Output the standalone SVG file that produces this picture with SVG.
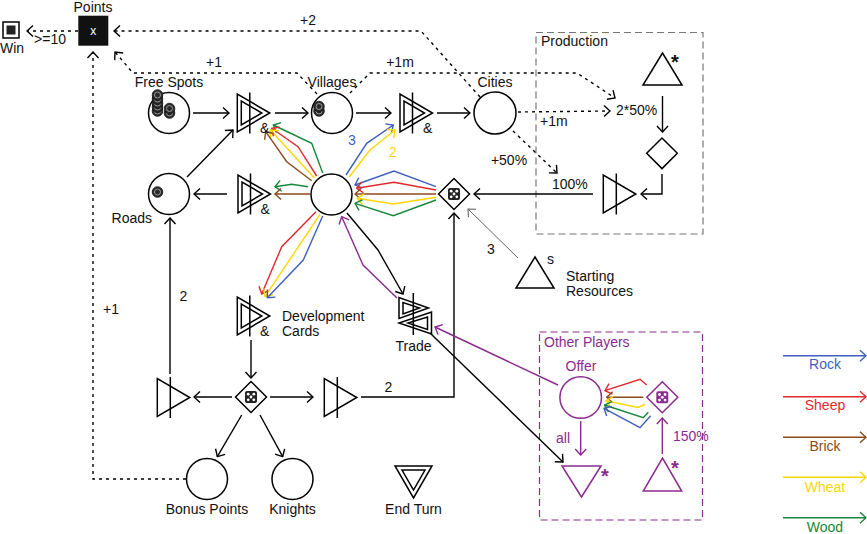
<svg xmlns="http://www.w3.org/2000/svg" xmlns:xlink="http://www.w3.org/1999/xlink" width="867" height="534" viewBox="0 0 867 534">
<style>
text{font-family:"Liberation Sans",Arial,sans-serif;font-size:14px;fill:#111}
.m{text-anchor:middle}
.e{text-anchor:end}
.n{fill:#fff;stroke:#000;stroke-width:1.5}
.o{fill:none;stroke:#000;stroke-width:1.5}
.c{fill:none;stroke:#000;stroke-width:1.4}
.d{stroke-dasharray:3 4}
.g{stroke:#666}
.b{stroke:#3f5fbf}.r{stroke:#e0282e}.br{stroke:#8b4a1c}.y{stroke:#ffd700}.gr{stroke:#17873a}.p{stroke:#8a2b8e}
.pt{fill:#8a2b8e}
.star{font-size:20px;font-weight:bold}
</style>
<defs>
<marker id="a" viewBox="-8 -7 9 14" refX="0" refY="0" markerWidth="9" markerHeight="14" markerUnits="userSpaceOnUse" orient="auto"><path d="M-6,-5.5L0,0L-6,5.5" fill="none" stroke="#000" stroke-width="1.4"/></marker>
<marker id="ag" viewBox="-8 -7 9 14" refX="0" refY="0" markerWidth="9" markerHeight="14" markerUnits="userSpaceOnUse" orient="auto"><path d="M-6,-5.5L0,0L-6,5.5" fill="none" stroke="#666" stroke-width="1.1"/></marker>
<marker id="ab" viewBox="-8 -7 9 14" refX="0" refY="0" markerWidth="9" markerHeight="14" markerUnits="userSpaceOnUse" orient="auto"><path d="M-6,-5.5L0,0L-6,5.5" fill="none" stroke="#3f5fbf" stroke-width="1.4"/></marker>
<marker id="ar" viewBox="-8 -7 9 14" refX="0" refY="0" markerWidth="9" markerHeight="14" markerUnits="userSpaceOnUse" orient="auto"><path d="M-6,-5.5L0,0L-6,5.5" fill="none" stroke="#e0282e" stroke-width="1.4"/></marker>
<marker id="abr" viewBox="-8 -7 9 14" refX="0" refY="0" markerWidth="9" markerHeight="14" markerUnits="userSpaceOnUse" orient="auto"><path d="M-6,-5.5L0,0L-6,5.5" fill="none" stroke="#8b4a1c" stroke-width="1.4"/></marker>
<marker id="ay" viewBox="-8 -7 9 14" refX="0" refY="0" markerWidth="9" markerHeight="14" markerUnits="userSpaceOnUse" orient="auto"><path d="M-6,-5.5L0,0L-6,5.5" fill="none" stroke="#ffd700" stroke-width="1.4"/></marker>
<marker id="agr" viewBox="-8 -7 9 14" refX="0" refY="0" markerWidth="9" markerHeight="14" markerUnits="userSpaceOnUse" orient="auto"><path d="M-6,-5.5L0,0L-6,5.5" fill="none" stroke="#17873a" stroke-width="1.4"/></marker>
<marker id="ap" viewBox="-8 -7 9 14" refX="0" refY="0" markerWidth="9" markerHeight="14" markerUnits="userSpaceOnUse" orient="auto"><path d="M-6,-5.5L0,0L-6,5.5" fill="none" stroke="#8a2b8e" stroke-width="1.4"/></marker>
<g id="conv"><path class="n" d="M0,-19V19L32.5,0Z"/><line class="o" x1="13" y1="-20.5" x2="13" y2="20.5"/></g>
<g id="conv2"><path class="n" d="M0,-19V19L32.5,0Z"/><path class="o" d="M4,-12V12L24.5,0Z"/><line class="o" x1="12.5" y1="-20.5" x2="12.5" y2="20.5"/></g>
<g id="tok"><circle r="5.3" fill="#2a2a2a" stroke="#111" stroke-width="0.8"/><circle r="3" fill="none" stroke="#9a9a9a" stroke-width="1"/><circle r="1.6" fill="#2a2a2a"/></g>
<g id="dice"><rect x="-6" y="-6" width="12" height="12" rx="2" fill="#222"/><g fill="#fff"><circle cx="-2.8" cy="-2.8" r="1.4"/><circle cx="2.8" cy="-2.8" r="1.4"/><circle cx="0" cy="0" r="1.4"/><circle cx="-2.8" cy="2.8" r="1.4"/><circle cx="2.8" cy="2.8" r="1.4"/></g></g>
<g id="pdice"><rect x="-6" y="-6" width="12" height="12" rx="2" fill="#8a2b8e"/><g fill="#fff"><circle cx="-2.8" cy="-2.8" r="1.4"/><circle cx="2.8" cy="-2.8" r="1.4"/><circle cx="0" cy="0" r="1.4"/><circle cx="-2.8" cy="2.8" r="1.4"/><circle cx="2.8" cy="2.8" r="1.4"/></g></g>
</defs>

<!-- groups / boxes -->
<g id="production-box">
<rect x="536" y="32.5" width="167" height="201.5" fill="none" stroke="#777" stroke-width="1.2" stroke-dasharray="7 4"/>
<text x="541" y="46">Production</text>
</g>
<g id="other-players-box">
<rect x="539.5" y="332" width="163" height="188" fill="none" stroke="#8a2b8e" stroke-width="1.2" stroke-dasharray="7 4"/>
<text x="544" y="347" class="pt">Other Players</text>
</g>

<g id="connectors">
<!-- state (dashed) connections -->
<path class="c d" d="M78,31H27" marker-end="url(#a)"/>
<text x="50" y="44" class="m">&gt;=10</text>
<path class="c d" d="M480,97L421,31H114" marker-end="url(#a)"/>
<text x="308" y="25" class="m">+2</text>
<path class="c d" d="M317,94L297,73H133L115,52" marker-end="url(#a)"/>
<text x="214" y="67" class="m">+1</text>
<path class="c d" d="M350,93L370,73H577L615,98" marker-end="url(#a)"/>
<text x="400" y="67" class="m">+1m</text>
<path class="c d" d="M518,112L610,111" marker-end="url(#a)"/>
<text x="540" y="126">+1m</text>
<path class="c d" d="M513,131L557,173" marker-end="url(#a)"/>
<text x="509" y="165" class="m">+50%</text>
<path class="c d" d="M186,479H93V52" marker-end="url(#a)"/>
<text x="111" y="314" class="m">+1</text>

<!-- black resource connections -->
<path class="c" d="M193,113H229" marker-end="url(#a)"/>
<path class="c" d="M275,113H308" marker-end="url(#a)"/>
<path class="c" d="M356,113H391" marker-end="url(#a)"/>
<path class="c" d="M437,113H470" marker-end="url(#a)"/>
<path class="c" d="M187,177L233,130" marker-end="url(#a)"/>
<path class="c" d="M227,194H194" marker-end="url(#a)"/>
<path class="c" d="M170,374V218" marker-end="url(#a)"/>
<text x="183.5" y="300.5" class="m">2</text>
<path class="c" d="M251,340V378" marker-end="url(#a)"/>
<path class="c" d="M232,397H194" marker-end="url(#a)"/>
<path class="c" d="M270,397H313" marker-end="url(#a)"/>
<path class="c" d="M241.7,415L217.3,456.7" marker-end="url(#a)"/>
<path class="c" d="M260,415L282.7,456.7" marker-end="url(#a)"/>
<path class="c" d="M361,397H454V213" marker-end="url(#a)"/>
<text x="388.5" y="392" class="m">2</text>
<path class="c" d="M593,194H474" marker-end="url(#a)"/>
<path class="c" d="M662.5,96V132" marker-end="url(#a)"/>
<path class="c" d="M662,174V194H641" marker-end="url(#a)"/>
<path class="c" d="M347,213L378,250L403,294" marker-end="url(#a)"/>
<path class="c" d="M430,333L563,462" marker-end="url(#a)"/>
<path class="c g" style="stroke-width:1" d="M518,258L468,209" marker-end="url(#ag)"/>
<text x="491" y="254" class="m">3</text>

<!-- hub to converter 1 -->
<path class="c gr" d="M322.7,173L311.7,143.3L273.3,125" marker-end="url(#agr)"/>
<path class="c r" d="M316.7,176L298,146.7L271.7,128.3" marker-end="url(#ar)"/>
<path class="c y" d="M314.3,178L270.5,130" marker-end="url(#ay)"/>
<path class="c br" d="M311.7,180.7L286.7,161.7L265.7,131.7" marker-end="url(#abr)"/>
<!-- hub to converter 2 -->
<path class="c b" d="M346,175L366.7,143.3L393.3,125" marker-end="url(#ab)"/>
<path class="c y" d="M349.3,176.7L370,150L395,130" marker-end="url(#ay)"/>
<text x="352" y="145" class="m" style="fill:#3f5fbf">3</text>
<text x="393" y="157" class="m" style="fill:#ffd700">2</text>
<!-- hub to converter 3 -->
<path class="c gr" d="M308,186.7L291.7,184.3L275,186.7" marker-end="url(#agr)"/>
<path class="c br" d="M310,194H275" marker-end="url(#abr)"/>
<!-- hub to dev cards -->
<path class="c r" d="M316,211.7L281.7,246.7L261.7,294" marker-end="url(#ar)"/>
<path class="c y" d="M320,214.3L265,296.7" marker-end="url(#ay)"/>
<path class="c b" d="M322.7,216L303.3,260L267.3,297.7" marker-end="url(#ab)"/>
<!-- dice to hub -->
<path class="c b" d="M436,186.7L394,171L355,185" marker-end="url(#ab)"/>
<path class="c r" d="M436,190L394,182.3L356.7,188.3" marker-end="url(#ar)"/>
<path class="c br" d="M436,194H355" marker-end="url(#abr)"/>
<path class="c y" d="M436,197.3L393.3,204L357.3,198.3" marker-end="url(#ay)"/>
<path class="c gr" d="M436,200L393.3,215.7L355,203.3" marker-end="url(#agr)"/>
<!-- purple -->
<path class="c p" d="M397,298L363,265L341.7,216.7" marker-end="url(#ap)"/>
<path class="c p" d="M558,385L435,327" marker-end="url(#ap)"/>
<path class="c p" d="M580.7,421V455" marker-end="url(#ap)"/>
<text x="563" y="443" class="m pt">all</text>
<path class="c p" d="M662.3,454V418" marker-end="url(#ap)"/>
<text x="673" y="441" class="pt">150%</text>
<!-- purple dice to offer -->
<path class="c r" d="M646.7,385L640,379.3L605,390.7" marker-end="url(#ar)"/>
<path class="c br" d="M643.3,397.3H606.7" marker-end="url(#abr)"/>
<path class="c y" d="M645,404.5L638,407.5L606,400.7" marker-end="url(#ay)"/>
<path class="c gr" d="M648.3,412.3L643.3,417.7L604.5,405" marker-end="url(#agr)"/>
<path class="c b" d="M650.7,415.7L640,427.7L604,408.3" marker-end="url(#ab)"/>
</g>

<!-- nodes -->
<g id="win">
<rect x="3" y="22" width="16" height="16" class="n"/>
<rect x="6.5" y="25.5" width="9" height="9" fill="#222"/>
<text x="12" y="53" class="m">Win</text>
</g>
<g id="points">
<rect x="78.3" y="15.7" width="30" height="30" fill="#111"/>
<text x="93.3" y="35" class="m" style="fill:#fff;font-size:12px">x</text>
<text x="93" y="11.5" class="m">Points</text>
</g>
<g id="free-spots">
<circle cx="169" cy="113" r="20.5" class="n"/>
<use xlink:href="#tok" x="157.5" y="111"/><use xlink:href="#tok" x="157.5" y="107"/><use xlink:href="#tok" x="157.5" y="103"/><use xlink:href="#tok" x="157.5" y="99"/><use xlink:href="#tok" x="157.5" y="95"/>
<use xlink:href="#tok" x="169.5" y="113"/><use xlink:href="#tok" x="169.5" y="108.5"/>
<text x="169" y="87" class="m">Free Spots</text>
</g>
<g id="villages">
<circle cx="332" cy="113" r="20.5" class="n"/>
<use xlink:href="#tok" x="319" y="111"/><use xlink:href="#tok" x="319" y="106.5"/>
<text x="332" y="87" class="m">Villages</text>
</g>
<g id="cities">
<circle cx="495" cy="113" r="21" class="n"/>
<text x="495" y="87" class="m">Cities</text>
</g>
<g id="roads">
<circle cx="169" cy="194" r="20.5" class="n"/>
<use xlink:href="#tok" x="157.5" y="192"/>
<text x="152" y="223" class="e">Roads</text>
</g>
<g id="hub"><circle cx="331.5" cy="194.5" r="20.5" class="n"/></g>
<g id="build-village"><use xlink:href="#conv2" x="237.3" y="113"/><text x="260" y="133">&amp;</text></g>
<g id="build-city"><use xlink:href="#conv2" x="400" y="113"/><text x="423" y="133">&amp;</text></g>
<g id="build-road"><use xlink:href="#conv2" x="238" y="194"/><text x="260.5" y="214">&amp;</text></g>
<g id="development-cards"><use xlink:href="#conv2" x="237.3" y="316"/><text x="260" y="336">&amp;</text>
<text x="282" y="321">Development</text><text x="282" y="336">Cards</text></g>
<g id="dice-gate">
<path class="n" d="M454,178.5L469.5,194L454,209.5L438.5,194Z"/>
<use xlink:href="#dice" x="454" y="194"/>
</g>
<g id="starting-resources">
<path class="n" d="M516,288H554L535,257Z"/>
<text x="547" y="264">s</text>
<text x="566" y="280.5">Starting</text>
<text x="566" y="296">Resources</text>
</g>
<g id="production-source">
<path class="n" d="M643,85H682L662.5,53Z"/>
<text x="671" y="69" class="star">*</text>
</g>
<g id="production-gate"><path class="n" d="M662,138L677.3,153.3L662,168.6L646.7,153.3Z"/></g>
<g id="production-converter"><use xlink:href="#conv" x="603.3" y="194"/></g>
<text x="616" y="115">2*50%</text>
<text x="552" y="189">100%</text>
<g id="trade">
<path class="o" d="M399,297.5V318.5L428.5,308Z"/>
<path class="o" d="M403,302.5V314L419.5,308Z"/>
<path class="o" d="M431.5,312V334L399,323Z"/>
<path class="o" d="M427.5,317V329.5L408,323Z"/>
<line class="o" x1="413.3" y1="293" x2="413.3" y2="335"/>
<text x="413.5" y="351" class="m">Trade</text>
</g>
<g id="dev-dice">
<path class="n" d="M251,381.5L266.5,397L251,412.5L235.5,397Z"/>
<use xlink:href="#dice" x="251" y="397"/>
</g>
<g id="road-converter"><use xlink:href="#conv" x="157.3" y="397.5"/></g>
<g id="trade-converter"><use xlink:href="#conv" x="324.3" y="397.5"/></g>
<g id="bonus-points"><circle cx="207" cy="479" r="20.5" class="n"/><text x="207" y="513.5" class="m">Bonus Points</text></g>
<g id="knights"><circle cx="292.5" cy="479" r="20.5" class="n"/><text x="292.5" y="513.5" class="m">Knights</text></g>
<g id="end-turn">
<path class="n" d="M395,466H432L413.5,498Z"/>
<path class="o" d="M402,470H425L413.5,490Z"/>
<text x="413.5" y="513.5" class="m">End Turn</text>
</g>
<g id="offer">
<circle cx="580.7" cy="397.5" r="20.8" class="n" style="stroke:#8a2b8e"/>
<text x="581" y="371" class="m pt">Offer</text>
</g>
<g id="other-drain">
<path class="n" d="M562,466H601L581.5,497Z" style="stroke:#8a2b8e"/>
<text x="601" y="483" class="star pt">*</text>
</g>
<g id="other-dice">
<path class="n" d="M662.3,381.8L677.8,397.3L662.3,412.8L646.8,397.3Z" style="stroke:#8a2b8e"/>
<use xlink:href="#pdice" x="662.3" y="397.3"/>
</g>
<g id="other-source">
<path class="n" d="M643.3,491H681.7L662.5,458Z" style="stroke:#8a2b8e"/>
<text x="671" y="475" class="star pt">*</text>
</g>

<g id="legend">
<path class="c b" d="M783,355.7H866" marker-end="url(#ab)"/>
<text x="825" y="369.3" class="m" style="fill:#3f5fbf">Rock</text>
<path class="c r" d="M783,396.7H866" marker-end="url(#ar)"/>
<text x="825" y="409.5" class="m" style="fill:#e0282e">Sheep</text>
<path class="c br" d="M783,437.3H866" marker-end="url(#abr)"/>
<text x="825" y="451" class="m" style="fill:#8b4a1c">Brick</text>
<path class="c y" d="M783,477.3H866" marker-end="url(#ay)"/>
<text x="825" y="491.5" class="m" style="fill:#ffd700">Wheat</text>
<path class="c gr" d="M783,517.7H866" marker-end="url(#agr)"/>
<text x="825" y="532" class="m" style="fill:#17873a">Wood</text>
</g>
</svg>
